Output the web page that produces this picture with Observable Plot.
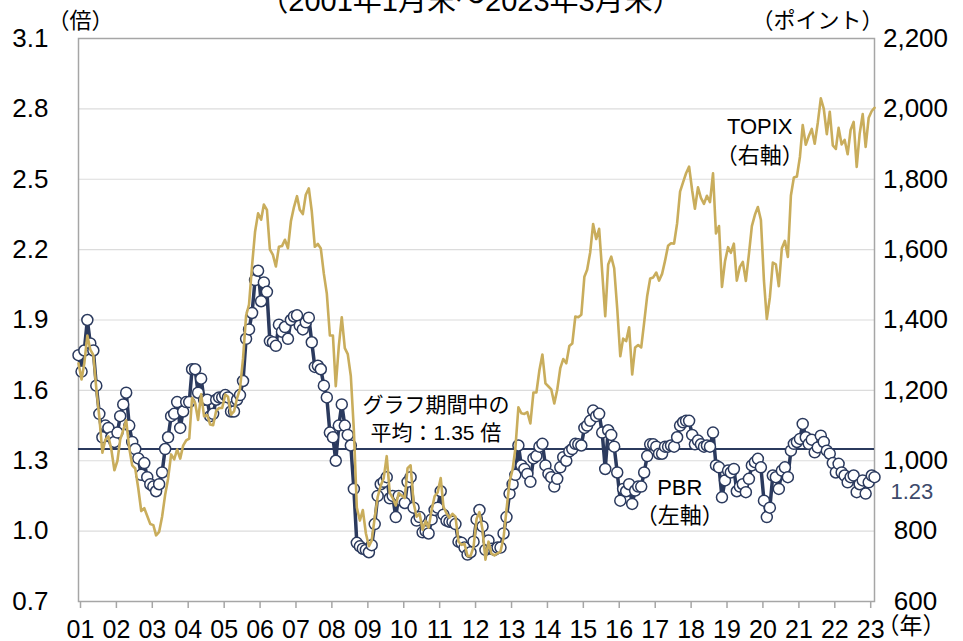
<!DOCTYPE html>
<html>
<head>
<meta charset="utf-8">
<script src="https://cdn.jsdelivr.net/npm/d3@7"></script>
<script src="https://cdn.jsdelivr.net/npm/@observablehq/plot@0.6"></script>
<style>
html, body { margin: 0; padding: 0; background: #fff; }
#chart { width: 963px; height: 641px; overflow: hidden; }
</style>
</head>
<body>
<div id="chart"></div>
<script>
// Monthly data, 2001-01 .. 2023-03 (month-end)
const startYear = 2001;
const topix = [
  1277,1231,1277,1356,1316,1300,1206,1123,1023,1060,1069,1032,
  973,1000,1060,1087,1115,1036,987,978,921,857,865,843,
  820,817,788,798,841,903,949,1018,1004,1032,1006,1043,
  1058,1063,1179,1164,1116,1189,1126,1130,1103,1101,1142,1150,
  1150,1188,1182,1131,1140,1177,1204,1290,1412,1444,1555,1650,
  1703,1685,1728,1713,1601,1585,1552,1608,1610,1628,1604,1681,
  1721,1752,1713,1701,1756,1774,1709,1608,1616,1603,1531,1475,
  1356,1356,1212,1326,1408,1320,1303,1241,1087,867,830,860,
  794,757,773,838,897,929,950,1013,909,894,873,908,
  901,894,979,987,881,841,850,804,829,810,860,899,
  910,951,869,851,838,849,841,770,761,764,729,729,
  755,835,854,804,719,770,736,731,737,742,781,860,
  940,975,1034,1152,1135,1133,1138,1106,1194,1194,1258,1302,
  1220,1211,1203,1163,1202,1263,1289,1277,1326,1333,1410,1408,
  1415,1523,1543,1592,1673,1630,1659,1537,1411,1558,1580,1547,
  1432,1297,1347,1340,1379,1245,1322,1329,1322,1393,1469,1518,
  1521,1535,1512,1531,1568,1611,1618,1617,1675,1765,1792,1817,
  1836,1768,1716,1777,1747,1730,1753,1735,1817,1646,1667,1494,
  1567,1607,1591,1617,1512,1551,1565,1511,1587,1667,1699,1721,
  1684,1511,1403,1464,1563,1558,1496,1604,1625,1579,1754,1805,
  1808,1864,1954,1898,1922,1943,1901,1960,2030,2001,1928,1992,
  1896,1886,1946,1899,1912,1871,1940,1963,1835,1929,1985,1892,
  1975,1994,2003
];
const pbr = [
  1.75,1.68,1.77,1.90,1.80,1.77,1.62,1.50,1.40,1.45,1.44,1.40,
  1.38,1.42,1.49,1.54,1.59,1.45,1.38,1.35,1.31,1.24,1.29,1.23,
  1.20,1.19,1.17,1.20,1.25,1.35,1.40,1.49,1.50,1.55,1.44,1.51,
  1.55,1.55,1.69,1.69,1.59,1.65,1.56,1.56,1.49,1.50,1.56,1.57,
  1.57,1.58,1.57,1.51,1.51,1.56,1.58,1.64,1.82,1.86,1.93,2.07,
  2.11,1.98,2.06,2.02,1.81,1.805,1.79,1.88,1.85,1.87,1.82,1.90,
  1.915,1.92,1.876,1.86,1.89,1.91,1.805,1.70,1.705,1.69,1.62,1.57,
  1.42,1.40,1.30,1.45,1.54,1.45,1.41,1.365,1.18,0.95,0.935,0.925,
  0.92,0.91,0.94,1.03,1.15,1.20,1.21,1.23,1.14,1.15,1.06,1.15,
  1.13,1.12,1.21,1.23,1.10,1.045,1.06,0.995,1.00,0.99,1.05,1.09,
  1.10,1.17,1.07,1.045,1.04,1.04,1.03,0.955,0.95,0.93,0.90,0.91,
  0.955,1.05,1.09,1.02,0.92,0.96,0.925,0.92,0.93,0.93,0.99,1.06,
  1.16,1.20,1.24,1.365,1.28,1.265,1.244,1.21,1.31,1.32,1.36,1.372,
  1.28,1.244,1.23,1.19,1.223,1.272,1.315,1.30,1.34,1.35,1.372,1.37,
  1.365,1.44,1.45,1.47,1.514,1.49,1.50,1.42,1.265,1.43,1.41,1.36,
  1.25,1.13,1.18,1.17,1.20,1.116,1.173,1.19,1.19,1.25,1.32,1.37,
  1.37,1.36,1.33,1.33,1.36,1.36,1.365,1.36,1.40,1.45,1.464,1.47,
  1.47,1.41,1.37,1.386,1.37,1.36,1.365,1.36,1.42,1.28,1.272,1.144,
  1.216,1.258,1.25,1.265,1.17,1.19,1.20,1.166,1.223,1.28,1.294,1.308,
  1.272,1.13,1.06,1.10,1.237,1.23,1.18,1.258,1.272,1.23,1.343,1.372,
  1.38,1.393,1.457,1.40,1.372,1.39,1.336,1.357,1.407,1.38,1.343,1.33,
  1.29,1.25,1.287,1.25,1.237,1.208,1.23,1.237,1.166,1.20,1.216,1.16,
  1.208,1.237,1.23
];
const averagePbr = 1.35;
const lastPbrLabel = "1.23";
const pbrTicks = [0.7, 1.0, 1.3, 1.6, 1.9, 2.2, 2.5, 2.8, 3.1];
const topixTickLabels = ["600","800","1,000","1,200","1,400","1,600","1,800","2,000","2,200"];
const yearLabels = ["01","02","03","04","05","06","07","08","09","10","11","12","13","14","15","16","17","18","19","20","21","22","23"];
const titleText = "（2001年1月末～2023年3月末）";
const leftUnit = "（倍）";
const rightUnit = "（ポイント）";
const xUnit = "（年）";
const avgNote = "グラフ期間中の\n平均：1.35 倍";
const topixNote = "TOPIX\n（右軸）";
const pbrNote = "PBR\n（左軸）";

const navy = "#2b3a5e";
const gold = "#c9ad5c";
const font = "'Liberation Sans', Arial, 'Noto Sans CJK JP', sans-serif";

const months = topix.map((t, i) => ({
  date: new Date(Date.UTC(startYear, i, 1)),
  topix: t,
  pbr: pbr[i]
}));
// right axis (TOPIX) mapped onto the PBR scale: 600 -> 0.7, 2200 -> 3.1
const topixOnPbr = t => 0.7 + (t - 600) * (3.1 - 0.7) / (2200 - 600);
const yearTicks = yearLabels.map((_, k) => new Date(Date.UTC(startYear + k, 0, 1)));
const last = months[months.length - 1];

const chart = Plot.plot({
  width: 963,
  height: 641,
  marginLeft: 78,
  marginRight: 89,
  marginTop: 38,
  marginBottom: 40,
  style: { fontFamily: font, fontSize: "22px", color: "#000", background: "#fff", overflow: "visible" },
  x: { type: "utc", domain: [months[0].date, last.date] },
  y: { domain: [0.7, 3.1] },
  marks: [
    Plot.gridY(pbrTicks, { stroke: "#dcdcdc", strokeOpacity: 1, strokeWidth: 1.2 }),
    Plot.frame({ stroke: "#a6a6a6", strokeWidth: 1.5 }),
    Plot.axisX(yearTicks, {
      tickSize: 7, tickPadding: 12, stroke: "#a6a6a6", strokeWidth: 1.5,
      tickFormat: d => yearLabels[d.getUTCFullYear() - startYear],
      fontSize: 25, dx: 2, fill: "#000", label: null
    }),
    Plot.axisY(pbrTicks, {
      anchor: "left", tickSize: 0, tickPadding: 30,
      tickFormat: d => d.toFixed(1), fontSize: 26, fill: "#000", label: null
    }),
    Plot.axisY(pbrTicks, {
      anchor: "right", tickSize: 0, tickPadding: 41, textAnchor: "middle",
      tickFormat: d => topixTickLabels[pbrTicks.indexOf(d)], fontSize: 26, fill: "#000", label: null
    }),
    Plot.ruleY([averagePbr], { stroke: navy, strokeWidth: 2 }),
    Plot.line(months, { x: "date", y: "pbr", stroke: navy, strokeWidth: 3.5 }),
    Plot.dot(months, { x: "date", y: "pbr", r: 5.5, fill: "#fff", stroke: navy, strokeWidth: 1.5 }),
    Plot.line(months, { x: "date", y: d => topixOnPbr(d.topix), stroke: gold, strokeWidth: 2.6 }),
    // labels
    Plot.text([titleText], { frameAnchor: "top", dx: -6, dy: -48, fontSize: 29, fill: "#000" }),
    Plot.text([leftUnit], { frameAnchor: "top-left", dx: -31, dy: -26, textAnchor: "start", fontSize: 22, fill: "#000" }),
    Plot.text([rightUnit], { frameAnchor: "top-right", dx: 9, dy: -26, textAnchor: "end", fontSize: 22, fill: "#000" }),
    Plot.text([xUnit], { frameAnchor: "bottom-right", dx: 2, dy: 32, textAnchor: "start", fontSize: 23, fill: "#000" }),
    Plot.text([{ date: new Date(Date.UTC(2010, 11, 15)), y: 1.486, t: avgNote }],
      { x: "date", y: "y", text: "t", fontSize: 21, lineHeight: 1.35, fill: "#000" }),
    Plot.text([{ date: new Date(Date.UTC(2019, 11, 20)), y: 2.671, t: topixNote }],
      { x: "date", y: "y", text: "t", fontSize: 22, lineHeight: 1.3, fill: "#000" }),
    Plot.text([{ date: new Date(Date.UTC(2017, 8, 28)), y: 1.1325, t: pbrNote }],
      { x: "date", y: "y", text: "t", fontSize: 22, lineHeight: 1.3, fill: "#000" }),
    Plot.text([{ date: last.date, y: 1.165, t: lastPbrLabel }],
      { x: "date", y: "y", text: "t", dx: 16, textAnchor: "start", fontSize: 22, fill: "#3d4a6b" })
  ]
});
document.getElementById("chart").appendChild(chart);
</script>
</body>
</html>
